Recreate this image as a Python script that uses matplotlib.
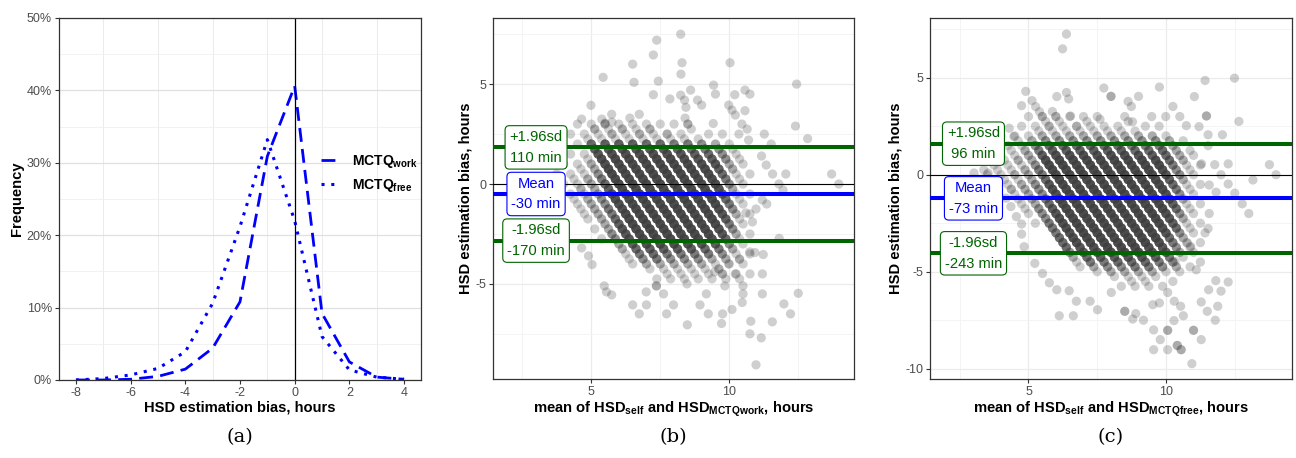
import matplotlib
matplotlib.use("Agg")
import matplotlib.pyplot as plt

plt.rcParams["font.family"] = "Liberation Sans"
plt.rcParams["mathtext.fontset"] = "custom"
plt.rcParams["mathtext.rm"] = "Liberation Sans"
plt.rcParams["mathtext.bf"] = "Liberation Sans:bold"
plt.rcParams["axes.unicode_minus"] = False

# ---- panel (a): distribution of estimation bias, % of respondents per 1 h bin
bias_hours = [-8, -7, -6, -5, -4, -3, -2, -1, 0, 1, 2, 3, 4]
freq_work = [0.0, 0.0, 0.1, 0.5, 1.5, 4.4, 10.8, 30.9, 40.6, 9.2, 2.5, 0.4, 0.1]
freq_free = [0.0, 0.2, 0.7, 1.6, 3.9, 10.6, 21.2, 33.2, 22.0, 6.0, 1.4, 0.4, 0.1]

# ---- panels (b), (c): Bland-Altman data
# respondents counted per self-reported HSD (one diagonal stripe each) and per
# 15-min bias bin; bins start at +3.0 h and go down ('.' = nobody)
BIN_TOP = 3.0
BIN_STEP = 0.25

work_self = [4.0, 4.5, 5.0, 5.5, 6.0, 6.5, 7.0, 7.5, 8.0, 8.5, 9.0, 9.5, 10.0, 10.5, 11.0]
work_counts = [
    "....  ....  ..1.  1.11  1111  .1.1  ....",
    "....  ....  1.11  1212  2222  2233  2211  1...",
    "....  ..1.  1112  2223  3445  6777  6543  21.1",
    "..1.  1.11  2234  5678  8899  9999  8654  2111",
    "1.11  5678  8999  9999  9999  9999  8643  2111",
    "1211  6789  9999  9999  9999  9999  8643  2111",
    "2121  6789  9999  9999  9999  9999  8643  2111",
    "1211  6789  9999  9999  9999  9999  7542  1211",
    "1121  5789  9999  9999  9999  9998  6432  1.11",
    "1211  5789  9999  9999  9999  9875  3211  1.1.",
    "1.21  4678  9999  9999  9876  4321  1.1.  ....",
    "1.11  4567  8999  9865  4321  1.1.  ....",
    ".1.1  3456  7654  3211  1.1.  ....",
    "..1.  2333  2211  1.1.  ....",
    "..1.  1111  1.1.  ....",
]
# scattered respondents away from the core: (mean of both HSD, bias), hours
work_out_x = [8.24, 7.37, 7.25, 6.5, 8.29, 10.03, 5.43, 6.55, 7.43, 8.25, 12.44, 9.43, 7.25, 8.6,
              9.5, 10.2, 10.57, 10.75, 7.85, 8.24, 8.38, 8.85, 9.0, 4.99, 9.98, 10.1, 10.22, 10.57,
              8.43, 8.4, 6.74, 5.74, 4.65, 5.38, 5.5, 5.75, 6.4, 8.5, 8.5, 9.42, 10.46, 12.4, 12.84,
              10.65, 10.35, 10.7, 11.27, 11.52, 13.71, 13.97, 12.05, 11.57, 11.8, 11.95, 11.34,
              11.17, 11.36, 11.2, 10.97, 10.6, 10.84, 11.81, 11.23, 10.74, 10.93, 10.37, 11.2,
              11.2, 12.5, 11.98, 12.22, 11.56, 10.78, 10.75, 11.16, 10.97, 10.47, 10.1, 9.76, 9.72,
              9.24, 8.94, 8.48, 7.73, 7.98, 7.0, 6.5, 6.74, 5.74, 5.47, 5.55, 7.36, 7.36, 7.62,
              6.99, 8.47, 9.17, 9.84, 10.5, 10.5, 10.22, 9.76, 9.98, 9.47, 5.03, 4.9, 4.65]
work_out_y = [7.5, 7.2, 6.46, 6.0, 6.07, 6.07, 5.34, 5.09, 5.15, 5.5, 5.0, 4.95, 4.47, 4.7,
              4.5, 4.47, 4.7, 4.5, 4.26, 4.45, 4.2, 4.2, 3.95, 3.94, 3.95, 3.7, 3.45, 3.67,
              3.84, 3.3, 3.49, 3.49, 3.25, 3.25, 3.05, 3.1, 3.3, 3.0, 3.0, 3.03, 3.0, 2.9, 2.27,
              2.75, 2.5, 2.2, 2.5, 2.0, 0.5, 0.0, 0.5, 0.5, 0.0, -0.3, 0.95,
              1.4, -1.0, -0.8, -1.25, -1.45, -1.9, -2.72, -3.53, -3.4, -3.43, -3.77, -4.5,
              -5.5, -5.47, -6.0, -6.5, -6.9, -6.87, -7.5, -7.7, -9.05, -5.93, -6.28, -6.5, -6.98,
              -6.5, -6.05, -7.05, -6.5, -6.05, -6.05, -6.05, -6.5, -5.55, -5.1, -5.4, -5.1, -5.1, -5.5,
              -5.4, -5.0, -5.5, -5.1, -5.1, -5.5, -4.5, -4.5, -4.0, -4.4, -4.03, -3.6, -3.2]

free_self = [3.5, 4.0, 4.5, 5.0, 5.5, 6.0, 6.5, 7.0, 7.5, 8.0, 8.5, 9.0, 9.5, 10.0, 10.5, 11.0, 11.5]
free_counts = [
    "....  ....  .1.1  1.1.  ....",
    "....  ..1.  1.11  1112  1111  1.1.  ....",
    "....  .1.1  1111  2122  2223  3344  4555  3211",
    "....  1.11  1212  2233  3456  7888  8887  6542  1...",
    "....  1112  2234  4578  8999  9999  9998  7643  21.1",
    "..1.  1234  6899  9999  9999  9999  9999  8653  2111",
    "1.11  2356  8999  9999  9999  9999  9999  8754  2111",
    "1121  2356  8999  9999  9999  9999  9999  8754  21.1",
    "1111  2356  8999  9999  9999  9999  9998  7643  1.1.",
    "1.21  2356  8999  9999  9999  9999  9987  6432  1...",
    "1111  2356  8999  9999  9999  9998  7543  21.1",
    "1.11  2356  8999  9999  9999  8765  3211  1.1.",
    "..11  2345  7999  9999  8765  3211  1.1.",
    ".1.1  2345  6898  7654  3211  1.1.",
    "..1.  2345  5543  3211  1.1.",
    "..1.  1222  2211  1.1.",
    "....  .1.1  1.1.",
]
free_out_x = [6.38, 6.24, 12.49, 11.42, 9.76, 7.74, 4.9, 6.38, 6.46, 6.03, 8.0, 8.0, 9.0, 8.62, 8.74,
              11.03, 10.25, 4.75, 5.13, 5.26, 5.4, 5.5, 5.87, 5.99, 6.53, 7.6, 8.5, 8.78, 9.48,
              9.99, 10.5, 11.47, 11.47, 11.2, 10.74, 12.65, 12.05, 11.53, 11.53, 11.29, 11.77, 12.26,
              12.0, 13.76, 14.0, 13.16, 12.26, 12.77, 13.01, 12.5, 11.57, 11.82, 11.53, 11.57,
              11.42, 10.78, 10.9, 10.33, 11.1, 11.81, 12.26, 12.0, 11.88, 11.5, 11.28, 11.55, 11.79,
              11.28, 11.0, 11.0, 10.94, 10.55, 10.55, 10.41, 10.41, 10.06, 10.06, 10.06, 9.79, 9.55,
              9.55, 10.29, 10.63, 10.53, 10.06, 10.3, 9.76, 9.52, 9.18, 8.79, 8.5, 8.5, 8.9, 8.01,
              7.51, 7.24, 6.74, 6.12, 6.63, 6.03, 6.48, 5.76, 5.51, 5.23, 4.84, 4.75, 4.75, 4.56,
              4.36, 4.18, 3.02, 3.53, 4.3, 4.47]
free_out_y = [7.25, 6.49, 4.98, 4.86, 4.52, 4.47, 4.3, 4.24, 3.91, 4.03, 4.04, 4.04, 4.04, 3.78, 3.52,
              4.03, 3.52, 3.56, 3.82, 3.51, 3.25, 3.0, 3.26, 3.0, 3.03, 2.86, 3.0, 2.73, 3.0,
              3.0, 3.0, 3.03, 3.03, 2.48, 2.53, 2.75, 2.06, 2.06, 1.5, 0.56, 0.52, 0.56,
              0.0, 0.52, 0.0, -0.27, -0.48, -1.5, -2.0, -0.95, -0.53, -0.9, -2.77, -2.0,
              -3.0, -3.52, -3.7, -4.47, -4.9, -5.46, -5.53, -6.0, -6.78, -7.04, -6.56, -5.93, -7.5,
              -8.5, -8.02, -8.02, -9.74, -9.02, -9.02, -8.8, -8.8, -8.02, -8.02, -9.02, -8.5, -9.02,
              -8.0, -7.52, -7.27, -6.78, -6.07, -6.52, -6.61, -6.7, -7.5, -7.44, -7.04, -7.04, -7.16, -6.07,
              -6.96, -6.52, -6.52, -7.27, -7.27, -5.93, -5.98, -5.57, -5.09, -4.57, -3.71, -3.06, -2.54, -2.16,
              -1.64, -1.21, 0.09, 0.09, 2.4, 1.97]

# limits of agreement, minutes: (+1.96sd, mean, -1.96sd)
work_loa = [110, -30, -170]
free_loa = [96, -73, -243]

GREEN = "#006400"
BLUE = "#0000FF"
POINT = "#404040"


def stripe_points(self_vals, count_rows):
    xs, ys = [], []
    for s, row in zip(self_vals, count_rows):
        row = row.replace(" ", "")
        for k, ch in enumerate(row):
            n = 0 if ch == "." else int(ch)
            b = BIN_TOP - BIN_STEP * k
            xs += [s - b / 2] * n
            ys += [b] * n
    return xs, ys


def style_axes(ax):
    for sp in ax.spines.values():
        sp.set_color("#333333")
        sp.set_linewidth(0.9)
    ax.tick_params(which="major", length=3, width=0.8, color="#333333",
                   labelsize=9, labelcolor="#4D4D4D", pad=2)
    ax.tick_params(which="minor", length=0)
    ax.set_axisbelow(True)


fig = plt.figure(figsize=(12.96, 4.58), dpi=100)

# ---------------- (a)
ax = fig.add_axes([59 / 1296, 1 - 380 / 458, 362 / 1296, 362 / 458])
ax.plot(bias_hours, freq_work, color=BLUE, lw=2.0, ls=(0, (5, 2.6)), label=r"MCTQ$_\mathbf{work}$")
ax.plot(bias_hours, freq_free, color=BLUE, lw=2.2, ls=(0, (1, 2.2)), label=r"MCTQ$_\mathbf{free}$")
ax.axvline(0, color="black", lw=0.9)
ax.set_xlim(-8.62, 4.62)
ax.set_ylim(0, 50)
ax.set_xticks(range(-8, 5, 2))
ax.set_xticks(range(-7, 4, 2), minor=True)
ax.set_yticks(range(0, 51, 10))
ax.set_yticks(range(5, 50, 10), minor=True)
ax.set_yticklabels([f"{v}%" for v in range(0, 51, 10)])
ax.yaxis.grid(True, which="major", color="#E0E0E0", lw=0.9)
ax.yaxis.grid(True, which="minor", color="#F0F0F0", lw=0.6)
ax.xaxis.grid(True, which="minor", color="#EBEBEB", lw=0.7)
style_axes(ax)
ax.set_xlabel("HSD estimation bias, hours", fontsize=10.6, fontweight="bold", labelpad=1)
ax.set_ylabel("Frequency", fontsize=10.6, fontweight="bold", labelpad=2)
ax.legend(loc="center left", bbox_to_anchor=(0.69, 0.57), frameon=False,
          handlelength=1.3, handletextpad=0.9, labelspacing=0.5,
          prop={"weight": "bold", "size": 10})


# ---------------- (b), (c)
def bland_altman(ax_box, self_vals, counts, out_x, out_y, loa, xlim, ylim, yticks, yminor, xlab):
    ax = fig.add_axes(ax_box)
    xs, ys = stripe_points(self_vals, counts)
    xs += out_x
    ys += out_y
    ax.scatter(xs, ys, s=44, color=POINT, alpha=0.25, edgecolors="none", zorder=2)
    ax.axhline(0, color="black", lw=0.8, zorder=3)
    ax.axhline(loa[0] / 60, color=GREEN, lw=2.9, zorder=3)
    ax.axhline(loa[1] / 60, color=BLUE, lw=2.9, zorder=3)
    ax.axhline(loa[2] / 60, color=GREEN, lw=2.9, zorder=3)
    texts = [f"+1.96sd\n{loa[0]} min", f"Mean\n{loa[1]} min", f"-1.96sd\n{loa[2]} min"]
    for v, t, c in zip(loa, texts, [GREEN, BLUE, GREEN]):
        ax.text(3.0, v / 60, t, color=c, fontsize=10.6, ha="center", va="center",
                linespacing=1.6, zorder=5,
                bbox=dict(boxstyle="round,pad=0.3,rounding_size=0.3", fc="white", ec=c, lw=0.8))
    ax.set_xlim(*xlim)
    ax.set_ylim(*ylim)
    ax.set_xticks([5, 10])
    ax.set_xticks([2.5, 7.5, 12.5], minor=True)
    ax.set_yticks(yticks)
    ax.set_yticks(yminor, minor=True)
    ax.grid(True, which="major", color="#EBEBEB", lw=0.9)
    ax.grid(True, which="minor", color="#F3F3F3", lw=0.6)
    style_axes(ax)
    ax.set_xlabel(xlab, fontsize=10.6, fontweight="bold", labelpad=1)
    ax.set_ylabel("HSD estimation bias, hours", fontsize=10.6, fontweight="bold", labelpad=2)
    return ax


bland_altman([493 / 1296, 1 - 379 / 458, 361 / 1296, 361 / 458], work_self, work_counts,
             work_out_x, work_out_y, work_loa, (1.44, 14.52), (-9.76, 8.31),
             [-5, 0, 5], [-7.5, -2.5, 2.5, 7.5],
             r"mean of HSD$_\mathbf{self}$ and HSD$_\mathbf{MCTQwork}$, hours")
bland_altman([930 / 1296, 1 - 379 / 458, 362 / 1296, 361 / 458], free_self, free_counts,
             free_out_x, free_out_y, free_loa, (1.42, 14.58), (-10.53, 8.08),
             [-10, -5, 0, 5], [-7.5, -2.5, 2.5, 7.5],
             r"mean of HSD$_\mathbf{self}$ and HSD$_\mathbf{MCTQfree}$, hours")

for x, lab in zip([240, 673, 1111], ["(a)", "(b)", "(c)"]):
    fig.text(x / 1296, 1 - 437 / 458, lab, family="DejaVu Serif", fontsize=14,
             ha="center", va="center")

fig.savefig("out.png", dpi=100)
